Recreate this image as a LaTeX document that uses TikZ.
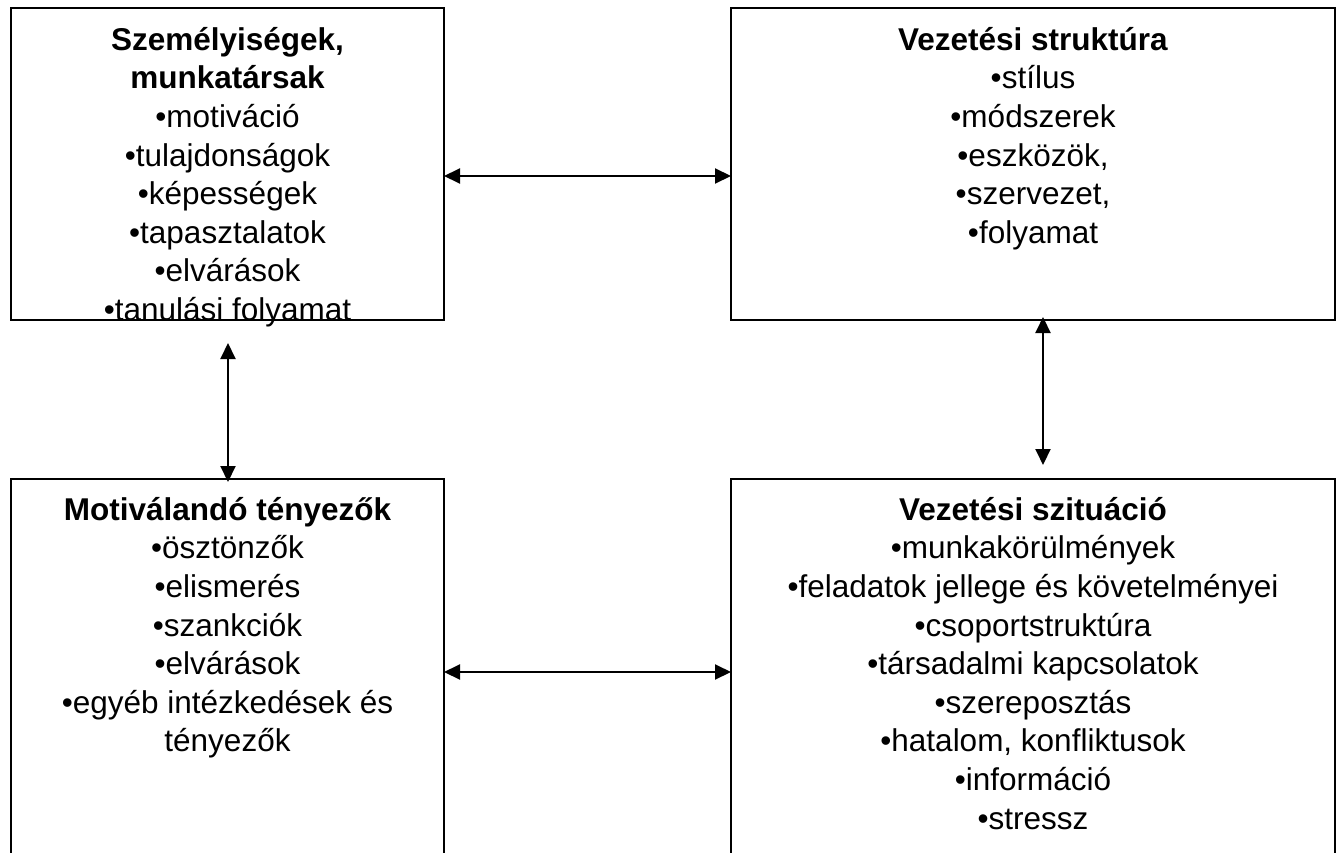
\documentclass[tikz,border=0pt]{standalone}
\usepackage{fontspec}
\setmainfont{Liberation Sans}
\usetikzlibrary{arrows.meta,calc}
\begin{document}
\begin{tikzpicture}[x=1pt,y=-1pt,
  box/.style={draw=black, line width=2pt, rectangle, inner sep=0pt, outer sep=0pt, anchor=north west},
  txt/.style={anchor=north, inner sep=0pt, align=center, font=\fontsize{31.5pt}{38.6pt}\selectfont},
  link/.style={line width=2pt, {Triangle[length=16pt,width=15pt]}-{Triangle[length=16pt,width=15pt]}}
]
\useasboundingbox (0,0) rectangle (1337,853);
\clip (0,0) rectangle (1337,853);

% the four boxes (the lower ones run past the bottom edge)
\node[box, minimum width=433pt, minimum height=312pt] (tl) at (11,8) {};
\node[box, minimum width=604pt, minimum height=312pt] (tr) at (731,8) {};
\node[box, minimum width=433pt, minimum height=420pt] (bl) at (11,479) {};
\node[box, minimum width=604pt, minimum height=420pt] (br) at (731,479) {};

% box contents
\node[txt] (tlt) at ($(tl.north)+(0,12)$) {\rule{0pt}{30pt}\textbf{Személyiségek,}\\
  \textbf{munkatársak}\\ •motiváció\\ •tulajdonságok\\ •képességek\\
  •tapasztalatok\\ •elvárások\\ •tanulási folyamat};
\node[txt] (trt) at ($(tr.north)+(0,12)$) {\rule{0pt}{30pt}\textbf{Vezetési struktúra}\\
  •stílus\\ •módszerek\\ •eszközök,\\ •szervezet,\\ •folyamat};
\node[txt] (blt) at ($(bl.north)+(0,11)$) {\rule{0pt}{30pt}\textbf{Motiválandó tényezők}\\
  •ösztönzők\\ •elismerés\\ •szankciók\\ •elvárások\\
  •egyéb intézkedések és\\ tényezők};
\node[txt] (brt) at ($(br.north)+(0,11)$) {\rule{0pt}{30pt}\textbf{Vezetési szituáció}\\
  •munkakörülmények\\ •feladatok jellege és követelményei\\ •csoportstruktúra\\
  •társadalmi kapcsolatok\\ •szereposztás\\ •hatalom, konfliktusok\\
  •információ\\ •stressz};

% two-way links
\coordinate (yt) at (0,176);
\coordinate (yb) at (0,672);
\coordinate (lv) at (228,343);
\coordinate (rv) at (1043,465);
\draw[link] (tl.east |- yt) -- (tr.west |- yt);
\draw[link] (bl.east |- yb) -- (br.west |- yb);
\draw[link, shorten >=-3pt] (lv) -- (lv |- bl.north);
\draw[link, shorten <=-3pt] (rv |- tr.south) -- (rv);
\end{tikzpicture}
\end{document}
